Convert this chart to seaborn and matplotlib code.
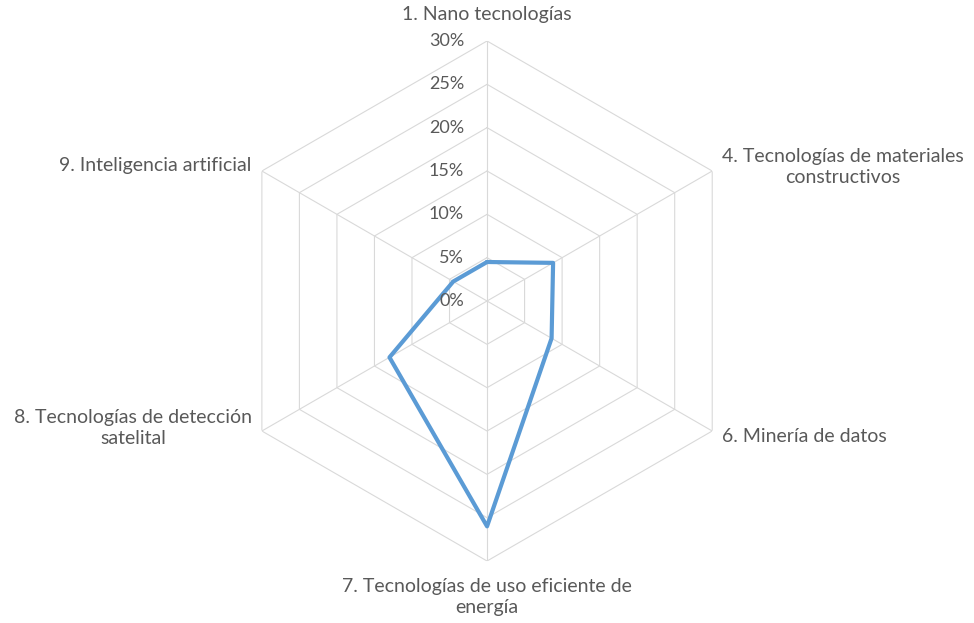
import numpy as np
import pandas as pd
import seaborn as sns
import matplotlib.pyplot as plt

categories = ['1. Nano tecnologías',
              '4. Tecnologías de materiales\nconstructivos',
              '6. Minería de datos',
              '7. Tecnologías de uso eficiente de\nenergía',
              '8. Tecnologías de detección\nsatelital',
              '9. Inteligencia artificial']
values = [0.045, 0.088, 0.086, 0.26, 0.13, 0.045]
ticks = [0.0, 0.05, 0.10, 0.15, 0.20, 0.25, 0.30]
tick_labels = ['0%', '5%', '10%', '15%', '20%', '25%', '30%']

# label placement: alignment and pixel offset from the outer vertex
label_pos = [('center', (0, 26)), ('left', (10, 4)), ('left', (10, -5)),
             ('center', (0, -36)), ('right', (-10, 3)), ('right', (-10, 5))]

sns.set_theme(style='white')
plt.rcParams['font.family'] = ['Lato', 'DejaVu Sans']
text_color = '#595959'
grid_color = '#D9D9D9'

n = len(categories)
angles = np.linspace(0, 2 * np.pi, n, endpoint=False)

# close the polygon by repeating the first point at 2*pi
df = pd.DataFrame({'angle': np.append(angles, 2 * np.pi),
                   'value': values + values[:1]})

fig = plt.figure(figsize=(9.74, 6.23), dpi=100)
ax = fig.add_axes([0.2331, 0.0995, 0.5339, 0.8347], projection='polar')
ax.set_theta_zero_location('N')
ax.set_theta_direction(-1)
ax.set_ylim(0, 0.30)
ax.grid(False)
ax.spines['polar'].set_visible(False)
ax.patch.set_alpha(0)

# hexagonal rings
ring_angles = np.append(angles, 2 * np.pi)
for t in ticks[1:]:
    ax.plot(ring_angles, [t] * len(ring_angles), color=grid_color, lw=0.8, zorder=1)
# spokes
for a in angles:
    ax.plot([a, a], [0, 0.30], color=grid_color, lw=0.8, zorder=1)

sns.lineplot(data=df, x='angle', y='value', sort=False, estimator=None, ax=ax,
             color='#5B9BD5', lw=3.0, zorder=3)
ax.lines[-1].set_solid_joinstyle('round')
ax.lines[-1].set_solid_capstyle('round')
ax.set_xlabel('')
ax.set_ylabel('')
ax.set_xticks([])
ax.set_yticks([])
ax.set_ylim(0, 0.30)

for t, lab in zip(ticks, tick_labels):
    ax.annotate(lab, xy=(0, t), xytext=(-23, 0), textcoords='offset pixels',
                ha='right', va='center', fontsize=13, color=text_color)

for a, cat, (ha, off) in zip(angles, categories, label_pos):
    ax.annotate(cat, xy=(a, 0.30), xytext=off, textcoords='offset pixels',
                ha=ha, va='center', multialignment='center',
                fontsize=14, color=text_color, linespacing=1.35,
                annotation_clip=False)

fig.savefig('out.png', dpi=100)
